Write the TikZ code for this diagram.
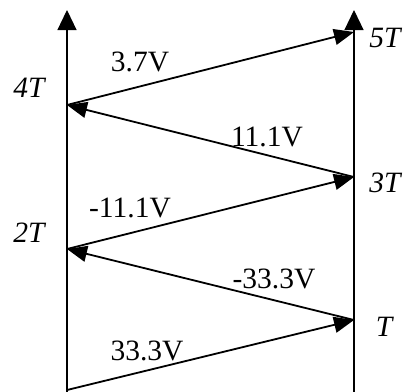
\documentclass[tikz,border=0pt]{standalone}
\usepackage{fontspec}
\setmainfont{Liberation Serif}
\usetikzlibrary{arrows.meta}
\begin{document}
\begin{tikzpicture}[x=1pt,y=-1pt,
  axis/.style={line width=1.2pt,-{Triangle[length=20pt,width=19pt]}},
  ray/.style={line width=1.8pt,-{Triangle[length=20pt,width=16pt]}},
  lbl/.style={font=\fontsize{29.5}{29.5}\selectfont,inner sep=0pt},
  tl/.style={font=\fontsize{29.5}{29.5}\selectfont\itshape,inner sep=0pt}]
\useasboundingbox (0,0) rectangle (409,391);
\coordinate (lb) at (67,393);
\coordinate (lt) at (67,10);
\coordinate (rb) at (354,393);
\coordinate (rt) at (354,10);
\coordinate (p0) at (67,390);
\coordinate (p1) at (354,320);
\coordinate (p2) at (67,249);
\coordinate (p3) at (354,177);
\coordinate (p4) at (67,105);
\coordinate (p5) at (354,32);
\draw[axis] (lb) -- (lt);
\draw[axis] (rb) -- (rt);
\draw[ray] (p0) -- (p1);
\draw[ray] (p1) -- (p2);
\draw[ray] (p2) -- (p3);
\draw[ray] (p3) -- (p4);
\draw[ray] (p4) -- (p5);
\node[lbl] (v1) at (147,351) {33.3V};
\node[lbl] (v2) at (274,279) {-33.3V};
\node[lbl] (v3) at (130,208) {-11.1V};
\node[lbl] (v4) at (267,137) {11.1V};
\node[lbl] (v5) at (140,62) {3.7V};
\node[tl] (t1) at (384,327) {T};
\node[tl] (t2) at (29,233) {2T};
\node[tl] (t3) at (385,183) {3T};
\node[tl] (t4) at (29,88) {4T};
\node[tl] (t5) at (385,38) {5T};
\end{tikzpicture}
\end{document}
